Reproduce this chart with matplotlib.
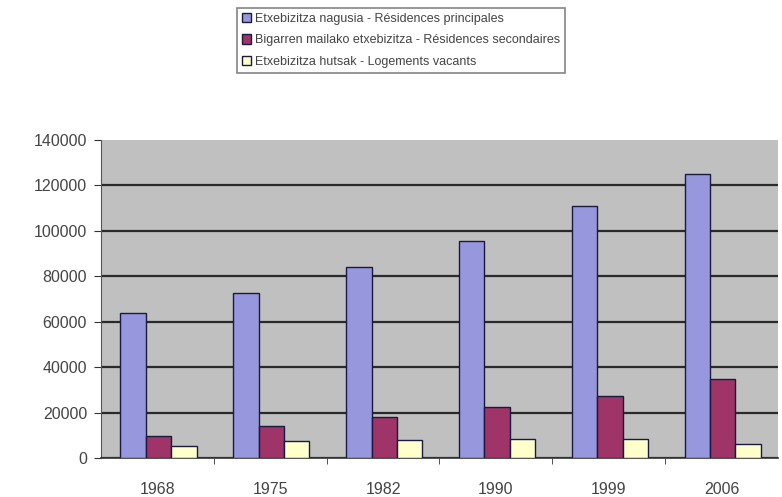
import matplotlib.pyplot as plt
import numpy as np

plt.rcParams['font.family'] = ['Liberation Sans', 'DejaVu Sans']

years = ["1968", "1975", "1982", "1990", "1999", "2006"]
principales = [64000, 72800, 83900, 95400, 110800, 124900]
secondaires = [9700, 14100, 18100, 22500, 27400, 34900]
vacants = [5300, 7500, 7900, 8400, 8400, 6200]

labels = [
    "Etxebizitza nagusia - Résidences principales",
    "Bigarren mailako etxebizitza - Résidences secondaires",
    "Etxebizitza hutsak - Logements vacants",
]
colors = ["#9797DE", "#9E3468", "#FFFFCC"]

fig = plt.figure(figsize=(7.82, 4.97), dpi=100)
ax = fig.add_axes([101 / 782, 39 / 497, 677 / 782, 318 / 497])
ax.set_facecolor("#C0C0C0")

x = np.arange(len(years))
w = 0.225
for i, (vals, c, lab) in enumerate(zip([principales, secondaires, vacants], colors, labels)):
    ax.bar(x + (i - 1) * w + 0.01, vals, width=w, color=c, edgecolor="#1a1a40",
           linewidth=1.0, label=lab, zorder=3)

ax.set_ylim(0, 140000)
ax.set_xlim(-0.5, len(years) - 0.5)
ax.set_yticks(range(0, 140001, 20000))
ax.yaxis.grid(True, color="#2a2a2a", linewidth=1.6, zorder=1)
ax.set_axisbelow(True)
ax.get_ygridlines()[-1].set_visible(False)

ax.set_xticks(x)
ax.set_xticklabels(years)
ax.set_xticks(np.arange(0.5, len(years) - 0.5, 1), minor=True)
ax.tick_params(axis="x", which="major", length=0, pad=17, labelsize=11.5, labelcolor="#444444")
ax.tick_params(axis="x", which="minor", length=4, color="#333333", direction="out")
ax.tick_params(axis="y", length=5, pad=5, labelsize=11.5, labelcolor="#444444", color="#333333")

for s in ["top", "right"]:
    ax.spines[s].set_visible(False)
ax.spines["left"].set_color("#555555")
ax.spines["bottom"].set_color("#333333")
ax.spines["bottom"].set_linewidth(1.2)

leg = fig.legend(loc="upper left", bbox_to_anchor=(237 / 782, 1 - 8 / 497),
                 bbox_transform=fig.transFigure, fontsize=9, frameon=True,
                 fancybox=False, handlelength=0.75, handleheight=0.75,
                 handletextpad=0.3, labelspacing=0.75, borderpad=0.4,
                 borderaxespad=0)
leg.get_frame().set_edgecolor("#666666")
leg.get_frame().set_linewidth(1.2)
for t in leg.get_texts():
    t.set_color("#444444")

fig.savefig("out.png", dpi=100)
